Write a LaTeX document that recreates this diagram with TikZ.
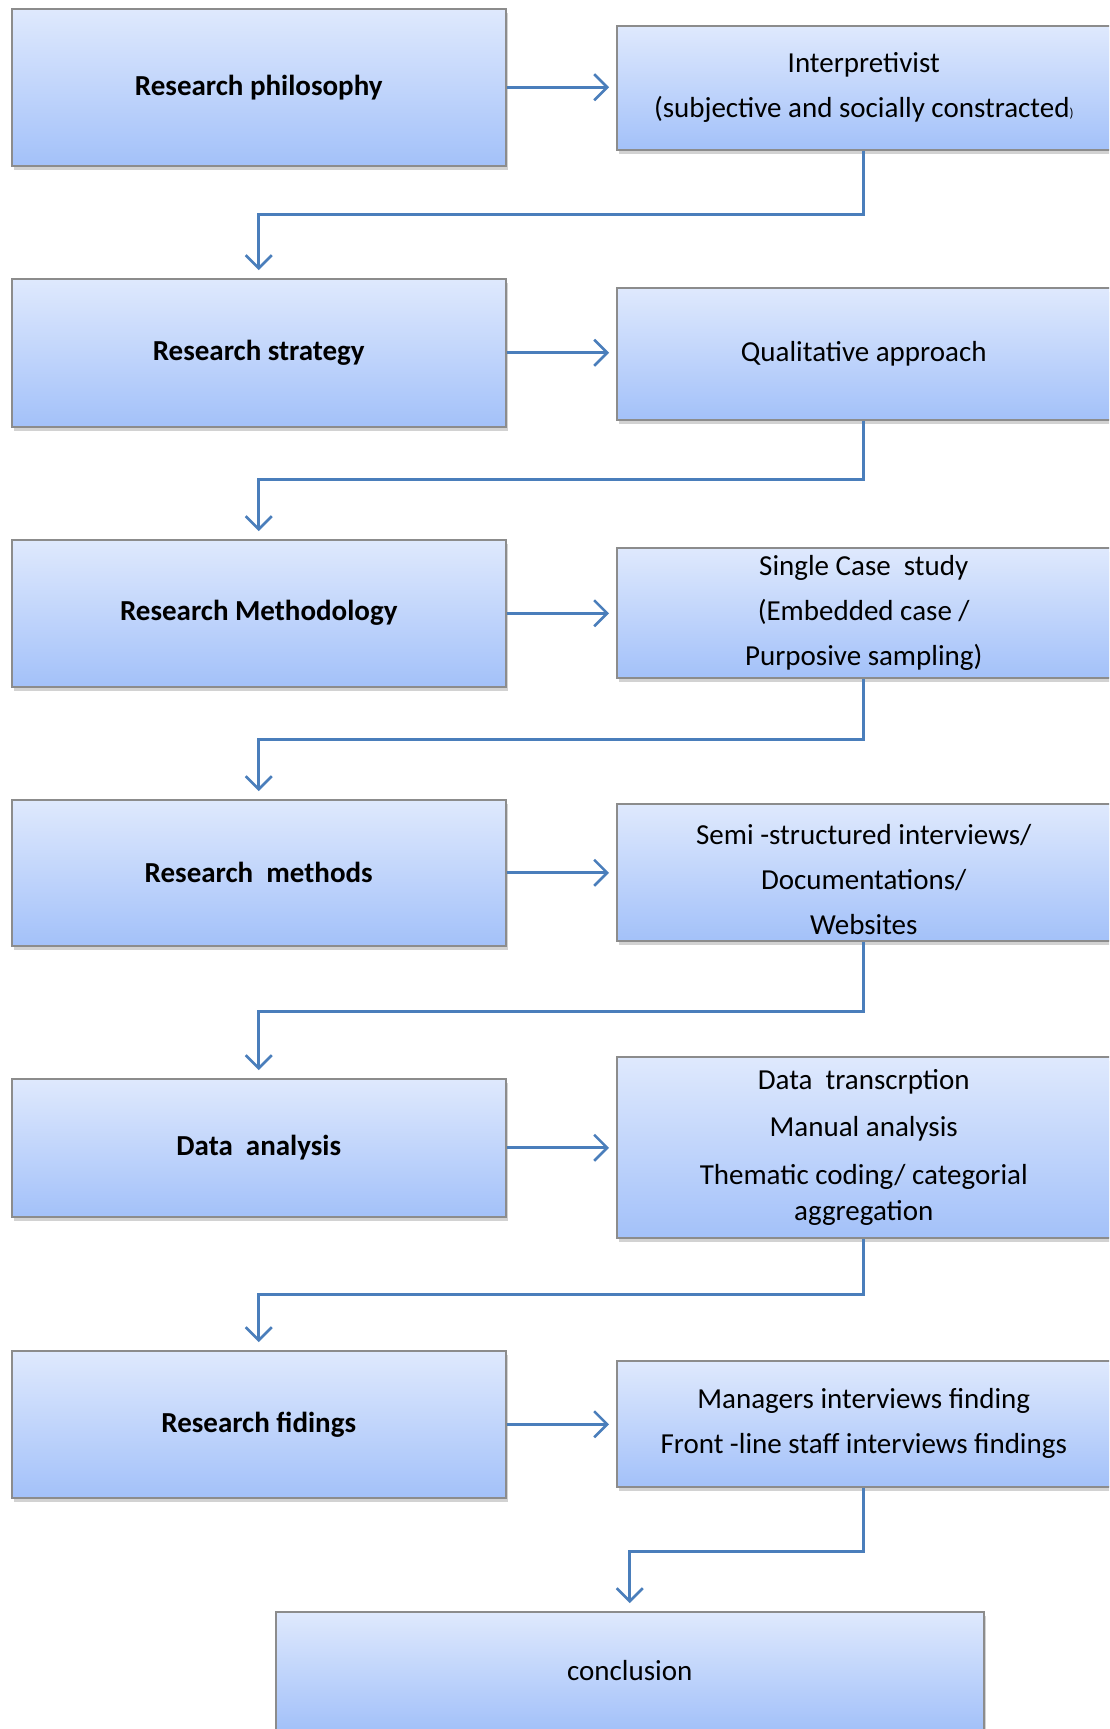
\documentclass[tikz,border=0pt]{standalone}
\usepackage{fontspec}
\setmainfont{Carlito}
\usetikzlibrary{arrows.meta,shadows}
\definecolor{topc}{HTML}{DFE9FD}
\definecolor{botc}{HTML}{A3C1F9}
\definecolor{edgec}{HTML}{8C8C8C}
\definecolor{connc}{HTML}{4A7EBB}
\begin{document}
\begin{tikzpicture}[x=1pt,y=-1pt,
  box/.style={draw=edgec,line width=1.5pt,top color=topc,bottom color=botc,
    drop shadow={shadow xshift=2pt,shadow yshift=-4pt,opacity=0.35},
    align=center,font=\fontsize{29}{45}\selectfont,inner sep=0pt,anchor=north west},
  lbox/.style={box,font=\fontsize{29}{45}\selectfont\bfseries,minimum width=494pt},
  rbox/.style={box,minimum width=494pt},
  conn/.style={draw=connc,line width=2.6pt,shorten >=8pt,
    -{Straight Barb[length=13pt,width=26pt,line width=2.6pt]}},
  hconn/.style={conn,shorten >=7pt}]
\clip (0,0) rectangle (1109,1729);
\fill[white] (0,0) rectangle (1109,1729);
% left column
\node[lbox,minimum height=157pt] (l1) at (11,8) {Research philosophy};
\node[lbox,minimum height=148pt] (l2) at (11,278) {Research strategy};
\node[lbox,minimum height=147pt] (l3) at (11,539) {Research Methodology};
\node[lbox,minimum height=146pt] (l4) at (11,799) {Research\ \ methods};
\node[lbox,minimum height=138pt] (l5) at (11,1078) {Data\ \ analysis};
\node[lbox,minimum height=147pt] (l6) at (11,1350) {Research fidings};
% right column
\node[rbox,minimum height=124pt] (r1) at (616,25) {Interpretivist\\(subjective and socially constracted{\fontsize{13}{13}\selectfont)}};
\node[rbox,minimum height=132pt] (r2) at (616,287) {Qualitative approach};
\node[rbox,minimum height=130pt] (r3) at (616,547) {Single Case\ \ study\\(Embedded case /\\Purposive sampling)};
\node[rbox,minimum height=137pt] (r4) at (616,803) {\rule{0pt}{34pt}Semi -structured interviews/\\Documentations/\\Websites};
\node[rbox,minimum height=181pt] (r5) at (616,1056) {Data\ \ transcrption\\[2pt]Manual analysis\\[3pt]Thematic coding/ categorial\\[-9pt]aggregation};
\node[rbox,minimum height=126pt] (r6) at (616,1360) {Managers interviews finding\\Front -line staff interviews findings};
% conclusion
\node[box,minimum width=708pt,minimum height=118pt] (c) at (275,1611) {conclusion};
% horizontal arrows
\foreach \i in {1,...,6}{
  \draw[hconn] (l\i.east) -- (l\i.east -| r\i.west);
}
% elbow connectors
\draw[conn] (r1.south) -- ++(0,64) -| (l2.north);
\draw[conn] (r2.south) -- ++(0,59) -| (l3.north);
\draw[conn] (r3.south) -- ++(0,61) -| (l4.north);
\draw[conn] (r4.south) -- ++(0,70) -| (l5.north);
\draw[conn] (r5.south) -- ++(0,56) -| (l6.north);
\draw[conn] (r6.south) -- ++(0,64) -| (c.north);
\end{tikzpicture}
\end{document}
